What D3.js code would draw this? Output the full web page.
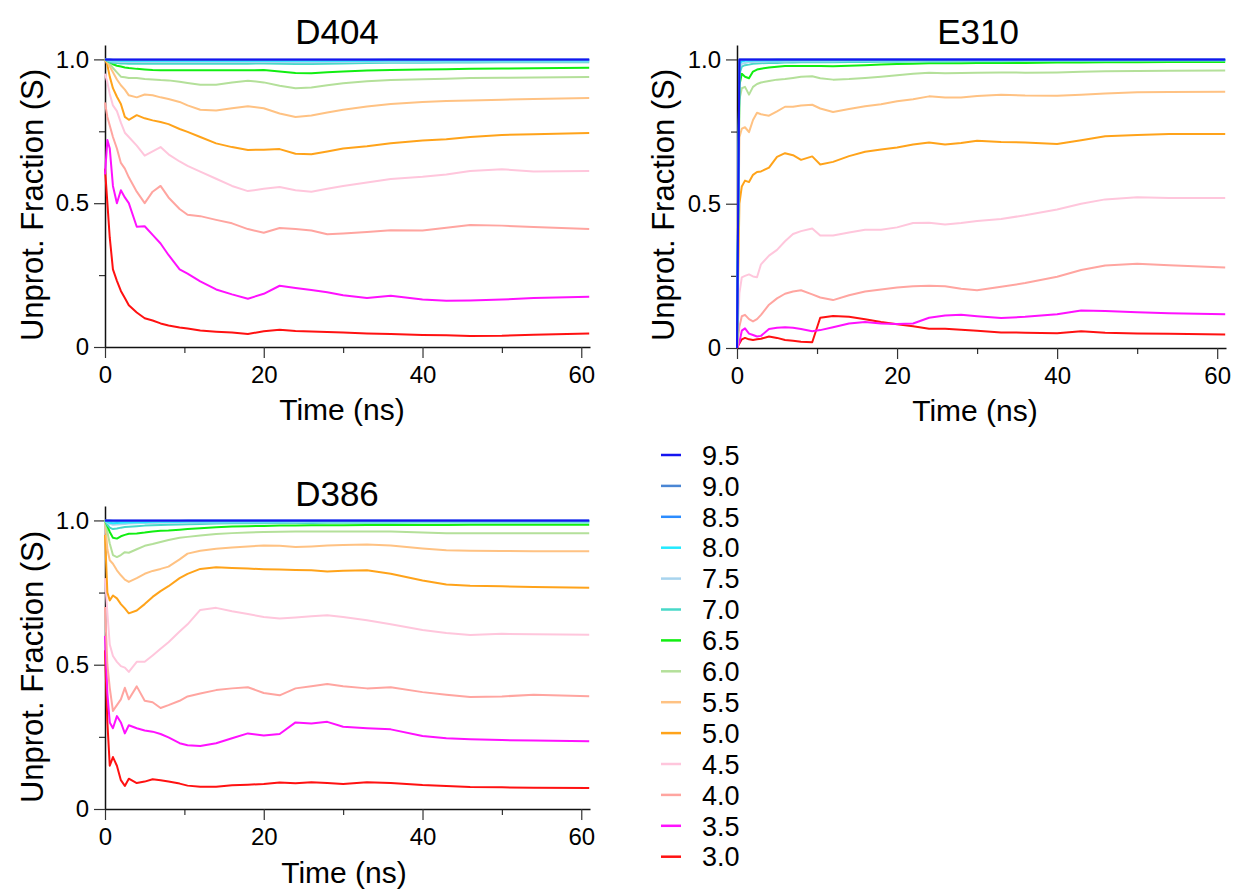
<!DOCTYPE html>
<html>
<head>
<meta charset="utf-8">
<script src="https://cdn.jsdelivr.net/npm/d3@7"></script>
<style>
  body { margin: 0; background: #fff; }
  svg  { display: block; font-family: "Liberation Sans", Arial, Helvetica, sans-serif; }
  .axis .domain { stroke: #111; stroke-width: 1.5; }
  .axis line    { stroke: #333; stroke-width: 1.2; }
  .axis text    { font-size: 24px; fill: #000; font-family: "Liberation Sans", Arial, sans-serif; }
</style>
</head>
<body>
<div id="chart"></div>
<script>
// -- shared time grid (ns) -------------------------------------------------
const times = [0, 0.3, 0.6, 1, 1.5, 2, 2.5, 3, 4, 5, 6, 7, 8, 9.4, 10.4, 12, 14, 16, 18,
               20, 22, 24, 26, 28, 30, 33, 36, 40, 43, 46, 50, 54, 61];

// pH levels, drawn bottom-up (3.0 first, 9.5 last / on top)
const phLevels   = ['3.0', '3.5', '4.0', '4.5', '5.0', '5.5', '6.0', '6.5', '7.0', '7.5', '8.0', '8.5', '9.0', '9.5'];
const lineColors = ['#ff1111', '#ff11ff', '#ffa5a0', '#ffc6dc', '#ffa31a', '#ffc283', '#b4e09a',
                    '#11ee11', '#48d8c8', '#a8d4ee', '#22eaff', '#2b8cff', '#4a86d4', '#1515f0'];

const xMajor = [0, 20, 40, 60];
const xMinor = [10, 30, 50];
const yMajor = [0, 0.5, 1.0];
const yMinor = [0.25, 0.75];

// -- D404 (rows follow phLevels) -------------------------------------------
const d404 = [
  [0.62,0.50,0.38,0.27,0.23,0.195,0.17,0.145,0.12,0.10,0.092,0.082,0.075,0.068,0.064,0.057,0.053,0.050,0.045,0.055,0.060,0.056,0.054,0.052,0.050,0.047,0.045,0.042,0.041,0.038,0.039,0.043,0.047],
  [0.60,0.72,0.69,0.56,0.50,0.545,0.52,0.50,0.418,0.42,0.39,0.36,0.32,0.27,0.255,0.228,0.20,0.183,0.168,0.185,0.213,0.205,0.198,0.19,0.18,0.17,0.178,0.165,0.161,0.162,0.165,0.17,0.175],
  [0.85,0.80,0.77,0.73,0.69,0.64,0.62,0.59,0.54,0.50,0.54,0.56,0.52,0.48,0.46,0.455,0.442,0.43,0.41,0.397,0.414,0.41,0.405,0.392,0.395,0.40,0.406,0.405,0.415,0.424,0.422,0.417,0.41],
  [0.95,0.92,0.88,0.84,0.82,0.78,0.745,0.73,0.70,0.665,0.68,0.695,0.67,0.645,0.63,0.61,0.585,0.56,0.542,0.55,0.556,0.545,0.54,0.55,0.56,0.572,0.584,0.592,0.60,0.612,0.618,0.61,0.612],
  [1.0,0.98,0.94,0.90,0.87,0.845,0.80,0.79,0.806,0.795,0.788,0.782,0.775,0.758,0.748,0.73,0.708,0.695,0.685,0.686,0.688,0.672,0.67,0.68,0.69,0.698,0.708,0.718,0.722,0.73,0.737,0.74,0.744],
  [1.0,0.99,0.975,0.955,0.93,0.91,0.895,0.875,0.868,0.878,0.875,0.868,0.862,0.852,0.84,0.825,0.822,0.83,0.837,0.83,0.812,0.80,0.805,0.815,0.825,0.836,0.845,0.852,0.855,0.857,0.86,0.862,0.866],
  [1.0,0.995,0.985,0.97,0.955,0.94,0.938,0.935,0.935,0.932,0.93,0.928,0.927,0.922,0.918,0.912,0.912,0.92,0.926,0.92,0.908,0.90,0.902,0.91,0.917,0.924,0.928,0.931,0.933,0.935,0.936,0.937,0.939],
  [1.0,0.995,0.99,0.983,0.978,0.975,0.972,0.97,0.967,0.965,0.963,0.962,0.962,0.962,0.962,0.962,0.962,0.962,0.962,0.963,0.958,0.953,0.952,0.955,0.958,0.961,0.963,0.965,0.966,0.967,0.968,0.969,0.971],
  [1.0,0.995,0.99,0.988,0.987,0.986,0.986,0.985,0.985,0.985,0.985,0.985,0.985,0.985,0.985,0.985,0.985,0.985,0.985,0.986,0.985,0.984,0.984,0.985,0.986,0.987,0.988,0.988,0.989,0.989,0.99,0.99,0.99],
  [1.0,0.997,0.995,0.993,0.992,0.991,0.991,0.991,0.991,0.991,0.991,0.991,0.991,0.991,0.991,0.991,0.991,0.991,0.991,0.991,0.991,0.99,0.99,0.991,0.991,0.992,0.992,0.992,0.993,0.993,0.993,0.993,0.993],
  [1.0,0.998,0.997,0.996,0.996,0.995,0.995,0.995,0.995,0.995,0.995,0.995,0.995,0.995,0.995,0.995,0.995,0.995,0.995,0.995,0.995,0.995,0.995,0.995,0.995,0.995,0.996,0.996,0.996,0.996,0.996,0.996,0.996],
  [1.0,0.999,0.999,0.998,0.998,0.998,0.998,0.998,0.998,0.998,0.998,0.998,0.998,0.998,0.998,0.998,0.998,0.998,0.998,0.998,0.998,0.998,0.998,0.998,0.998,0.998,0.999,0.999,0.999,0.999,0.999,0.999,0.999],
  [1.0,1.0,1.0,0.999,0.999,0.999,0.999,0.999,0.999,0.999,0.999,0.999,0.999,0.999,0.999,0.999,0.999,0.999,0.999,0.999,0.999,0.999,0.999,0.999,0.999,0.999,0.999,0.999,0.999,0.999,0.999,0.999,0.999],
  [1.0,1.0,1.0,1.0,1.0,1.0,1.0,1.0,1.0,1.0,1.0,1.0,1.0,1.0,1.0,1.0,1.0,1.0,1.0,1.0,1.0,1.0,1.0,1.0,1.0,1.0,1.0,1.0,1.0,1.0,1.0,1.0,1.0]
];

// -- E310 ------------------------------------------------------------------
const e310 = [
  [0,0.016,0.03,0.035,0.03,0.028,0.03,0.032,0.04,0.035,0.028,0.025,0.022,0.02,0.105,0.111,0.108,0.10,0.09,0.082,0.075,0.067,0.067,0.063,0.06,0.054,0.053,0.051,0.058,0.053,0.05,0.049,0.047],
  [0,0.02,0.06,0.068,0.05,0.045,0.04,0.042,0.066,0.07,0.072,0.07,0.066,0.058,0.062,0.072,0.085,0.09,0.085,0.083,0.085,0.105,0.113,0.115,0.11,0.104,0.108,0.117,0.13,0.128,0.124,0.12,0.117],
  [0,0.074,0.11,0.115,0.10,0.092,0.10,0.115,0.15,0.172,0.188,0.196,0.20,0.186,0.175,0.166,0.183,0.196,0.203,0.21,0.214,0.216,0.214,0.205,0.20,0.212,0.225,0.247,0.27,0.286,0.292,0.287,0.279],
  [0,0.19,0.245,0.25,0.255,0.248,0.245,0.29,0.32,0.34,0.37,0.395,0.405,0.414,0.39,0.39,0.40,0.41,0.41,0.418,0.433,0.434,0.428,0.433,0.44,0.447,0.46,0.48,0.50,0.515,0.522,0.52,0.52],
  [0,0.50,0.56,0.58,0.575,0.60,0.61,0.612,0.625,0.662,0.675,0.668,0.652,0.664,0.636,0.645,0.665,0.68,0.688,0.695,0.705,0.712,0.705,0.71,0.718,0.714,0.712,0.707,0.72,0.734,0.738,0.742,0.742],
  [0,0.73,0.76,0.765,0.748,0.79,0.815,0.81,0.805,0.82,0.836,0.836,0.84,0.843,0.83,0.818,0.828,0.838,0.845,0.855,0.862,0.872,0.868,0.868,0.873,0.878,0.875,0.874,0.878,0.882,0.886,0.887,0.888],
  [0,0.86,0.90,0.905,0.878,0.905,0.915,0.92,0.925,0.93,0.932,0.936,0.94,0.942,0.935,0.93,0.932,0.936,0.94,0.945,0.95,0.954,0.952,0.953,0.954,0.955,0.954,0.955,0.957,0.959,0.96,0.961,0.962],
  [0,0.91,0.95,0.94,0.935,0.958,0.965,0.968,0.972,0.975,0.977,0.977,0.977,0.977,0.977,0.976,0.978,0.98,0.982,0.984,0.985,0.987,0.987,0.987,0.988,0.988,0.988,0.989,0.989,0.99,0.99,0.991,0.991],
  [0,0.95,0.975,0.98,0.982,0.985,0.986,0.987,0.988,0.988,0.989,0.989,0.99,0.99,0.99,0.99,0.991,0.991,0.992,0.992,0.993,0.993,0.993,0.994,0.994,0.994,0.995,0.995,0.995,0.995,0.996,0.996,0.996],
  [0,0.97,0.985,0.988,0.99,0.991,0.992,0.992,0.993,0.993,0.993,0.994,0.994,0.994,0.994,0.994,0.995,0.995,0.995,0.995,0.995,0.996,0.996,0.996,0.996,0.996,0.997,0.997,0.997,0.997,0.997,0.997,0.997],
  [0,0.985,0.993,0.995,0.995,0.996,0.996,0.996,0.996,0.996,0.997,0.997,0.997,0.997,0.997,0.997,0.997,0.997,0.997,0.997,0.998,0.998,0.998,0.998,0.998,0.998,0.998,0.998,0.998,0.998,0.998,0.998,0.998],
  [0,0.995,0.997,0.998,0.998,0.998,0.998,0.998,0.998,0.999,0.999,0.999,0.999,0.999,0.999,0.999,0.999,0.999,0.999,0.999,0.999,0.999,0.999,0.999,0.999,0.999,0.999,0.999,0.999,0.999,0.999,0.999,0.999],
  [0,1.0,1.0,1.0,1.0,1.0,1.0,1.0,1.0,1.0,1.0,1.0,1.0,1.0,1.0,1.0,1.0,1.0,1.0,1.0,1.0,1.0,1.0,1.0,1.0,1.0,1.0,1.0,1.0,1.0,1.0,1.0,1.0],
  [0,1.0,1.0,1.0,1.0,1.0,1.0,1.0,1.0,1.0,1.0,1.0,1.0,1.0,1.0,1.0,1.0,1.0,1.0,1.0,1.0,1.0,1.0,1.0,1.0,1.0,1.0,1.0,1.0,1.0,1.0,1.0,1.0]
];

// -- D386 ------------------------------------------------------------------
const d386 = [
  [0.55,0.30,0.15,0.18,0.15,0.10,0.08,0.105,0.09,0.095,0.103,0.10,0.095,0.088,0.081,0.077,0.077,0.082,0.084,0.087,0.092,0.089,0.093,0.09,0.087,0.093,0.09,0.083,0.08,0.076,0.075,0.074,0.073],
  [0.60,0.40,0.30,0.28,0.322,0.30,0.262,0.29,0.28,0.272,0.268,0.26,0.248,0.228,0.221,0.218,0.228,0.245,0.262,0.255,0.26,0.30,0.296,0.302,0.285,0.28,0.276,0.253,0.245,0.242,0.239,0.237,0.235],
  [0.70,0.50,0.42,0.34,0.36,0.38,0.42,0.38,0.425,0.375,0.37,0.35,0.36,0.375,0.39,0.40,0.412,0.418,0.422,0.402,0.394,0.418,0.425,0.433,0.425,0.418,0.422,0.405,0.396,0.388,0.39,0.396,0.391],
  [0.80,0.68,0.57,0.53,0.51,0.495,0.49,0.475,0.51,0.51,0.532,0.555,0.578,0.615,0.64,0.69,0.697,0.685,0.676,0.665,0.66,0.664,0.668,0.671,0.665,0.654,0.64,0.62,0.61,0.603,0.607,0.606,0.604],
  [0.95,0.75,0.723,0.74,0.73,0.71,0.695,0.678,0.688,0.71,0.735,0.755,0.772,0.80,0.815,0.832,0.838,0.835,0.833,0.831,0.83,0.828,0.827,0.823,0.826,0.827,0.815,0.792,0.778,0.774,0.772,0.769,0.767],
  [1.0,0.90,0.862,0.85,0.827,0.81,0.795,0.787,0.80,0.815,0.825,0.832,0.84,0.865,0.885,0.895,0.902,0.906,0.91,0.913,0.912,0.908,0.91,0.913,0.915,0.917,0.913,0.903,0.897,0.895,0.894,0.893,0.893],
  [1.0,0.96,0.92,0.88,0.873,0.88,0.89,0.888,0.90,0.912,0.918,0.925,0.932,0.94,0.943,0.948,0.953,0.956,0.958,0.96,0.961,0.962,0.962,0.962,0.962,0.962,0.962,0.958,0.956,0.956,0.956,0.956,0.956],
  [1.0,0.98,0.96,0.94,0.937,0.945,0.95,0.954,0.955,0.958,0.962,0.964,0.965,0.968,0.97,0.973,0.976,0.979,0.98,0.981,0.982,0.982,0.983,0.983,0.983,0.984,0.984,0.984,0.984,0.985,0.985,0.985,0.985],
  [1.0,0.985,0.975,0.97,0.972,0.975,0.977,0.978,0.98,0.982,0.983,0.984,0.985,0.986,0.987,0.988,0.989,0.99,0.99,0.99,0.991,0.991,0.991,0.992,0.992,0.992,0.992,0.993,0.993,0.993,0.993,0.993,0.993],
  [1.0,0.992,0.988,0.985,0.986,0.987,0.988,0.989,0.99,0.991,0.991,0.992,0.992,0.992,0.993,0.993,0.993,0.994,0.994,0.994,0.994,0.994,0.995,0.995,0.995,0.995,0.995,0.995,0.995,0.995,0.995,0.995,0.995],
  [1.0,0.995,0.992,0.99,0.991,0.992,0.993,0.993,0.994,0.994,0.995,0.995,0.995,0.995,0.996,0.996,0.996,0.996,0.996,0.996,0.996,0.997,0.997,0.997,0.997,0.997,0.997,0.997,0.997,0.997,0.997,0.997,0.997],
  [1.0,0.998,0.998,0.997,0.997,0.998,0.998,0.998,0.998,0.998,0.998,0.998,0.998,0.998,0.999,0.999,0.999,0.999,0.999,0.999,0.999,0.999,0.999,0.999,0.999,0.999,0.999,0.999,0.999,0.999,0.999,0.999,0.999],
  [1.0,1.0,1.0,0.999,0.999,0.999,0.999,0.999,0.999,0.999,0.999,0.999,0.999,0.999,0.999,0.999,0.999,0.999,0.999,0.999,0.999,0.999,0.999,0.999,0.999,0.999,0.999,0.999,0.999,0.999,0.999,0.999,0.999],
  [1.0,1.0,1.0,1.0,1.0,1.0,1.0,1.0,1.0,1.0,1.0,1.0,1.0,1.0,1.0,1.0,1.0,1.0,1.0,1.0,1.0,1.0,1.0,1.0,1.0,1.0,1.0,1.0,1.0,1.0,1.0,1.0,1.0]
];

// -- panel placement -------------------------------------------------------
const panels = [
  { title: 'D404', rows: d404, left: 105, right: 590,  top: 45,  bottom: 347,
    titleX: 337, titleY: 44,  xLabX: 342, xLabY: 420, yLabX: 43,  yLabY: 205 },
  { title: 'E310', rows: e310, left: 737, right: 1226, top: 45,  bottom: 348,
    titleX: 978, titleY: 44,  xLabX: 975, xLabY: 421, yLabX: 674, yLabY: 205 },
  { title: 'D386', rows: d386, left: 105, right: 590,  top: 506, bottom: 809,
    titleX: 337, titleY: 506, xLabX: 344, xLabY: 883, yLabX: 43,  yLabY: 667 }
];

const svg = d3.select('#chart').append('svg')
  .attr('width', 1236)
  .attr('height', 890);

const yFmt = v => v === 0 ? '0' : d3.format('.1f')(v);

panels.forEach(p => {
  const x = d3.scaleLinear().domain([0, 61.1]).range([p.left, p.right]);
  const y = d3.scaleLinear().domain([0, 1.05]).range([p.bottom, p.top]);
  const g = svg.append('g');

  // minor ticks first, then major axes (with the domain line)
  g.append('g').attr('class', 'axis')
    .attr('transform', `translate(0,${p.bottom})`)
    .call(d3.axisBottom(x).tickValues(xMinor).tickSize(6).tickSizeOuter(0).tickFormat(''))
    .select('.domain').remove();
  g.append('g').attr('class', 'axis')
    .attr('transform', `translate(${p.left},0)`)
    .call(d3.axisLeft(y).tickValues(yMinor).tickSize(6).tickSizeOuter(0).tickFormat(''))
    .select('.domain').remove();

  g.append('g').attr('class', 'axis')
    .attr('transform', `translate(0,${p.bottom})`)
    .call(d3.axisBottom(x).tickValues(xMajor).tickSize(11).tickPadding(8).tickSizeOuter(0)
      .tickFormat(d3.format('d')));
  g.append('g').attr('class', 'axis')
    .attr('transform', `translate(${p.left},0)`)
    .call(d3.axisLeft(y).tickValues(yMajor).tickSize(11).tickPadding(5).tickSizeOuter(0)
      .tickFormat(yFmt));

  // -- series -------------------------------------------------------------
  const line = d3.line()
    .x((d, i) => x(times[i]))
    .y(d => y(d));

  p.rows.forEach((vals, k) => {
    g.append('path')
      .attr('d', line(vals))
      .attr('fill', 'none')
      .attr('stroke', lineColors[k])
      .attr('stroke-width', 2)
      .attr('stroke-linejoin', 'round');
  });

  // -- labels -------------------------------------------------------------
  g.append('text')
    .attr('x', p.titleX).attr('y', p.titleY)
    .attr('text-anchor', 'middle')
    .style('font-size', '35px')
    .text(p.title);

  g.append('text')
    .attr('x', p.xLabX).attr('y', p.xLabY)
    .attr('text-anchor', 'middle')
    .style('font-size', '30px')
    .text('Time (ns)');

  g.append('text')
    .attr('transform', `translate(${p.yLabX},${p.yLabY}) rotate(-90)`)
    .attr('text-anchor', 'middle')
    .style('font-size', '31px')
    .text('Unprot. Fraction (S)');
});

// -- legend (9.5 at the top) -----------------------------------------------
const legend = svg.append('g').attr('transform', 'translate(661,455)');
const legendOrder = d3.range(phLevels.length).reverse();

legendOrder.forEach((k, row) => {
  const ly = row * 30.9;
  legend.append('line')
    .attr('x1', 0).attr('x2', 20)
    .attr('y1', ly).attr('y2', ly)
    .attr('stroke', lineColors[k])
    .attr('stroke-width', 2.5);
  legend.append('text')
    .attr('x', 41).attr('y', ly)
    .attr('dy', '0.36em')
    .style('font-size', '27px')
    .text(phLevels[k]);
});
</script>
</body>
</html>
